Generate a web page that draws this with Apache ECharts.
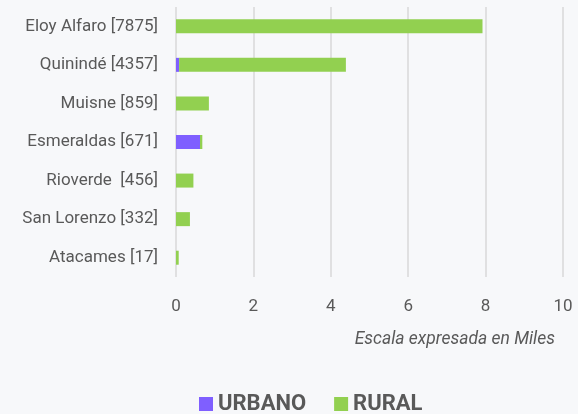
<!DOCTYPE html>
<html>
<head>
<meta charset="utf-8">
<script src="https://cdn.jsdelivr.net/npm/echarts@6/dist/echarts.min.js"></script>
<style>
  html, body { margin: 0; padding: 0; background: #f7f8fa; }
  #chart { width: 578px; height: 414px; }
</style>
</head>
<body>
<div id="chart"></div>
<script>
// categories top to bottom (reversed for the category axis below)
const cantones = ['Eloy Alfaro [7875]', 'Quinindé [4357]', 'Muisne [859]', 'Esmeraldas [671]', 'Rioverde  [456]', 'San Lorenzo [332]', 'Atacames [17]'];
// values in thousands
const urbano = [0, 0.08, 0, 0.62, 0, 0, 0];
const rural = [7.92, 4.31, 0.85, 0.06, 0.45, 0.36, 0.07];
const xTicks = [0, 2, 4, 6, 8, 10];

const chart = echarts.init(document.getElementById('chart'));

const option = {
  backgroundColor: '#f7f8fa',
  animation: false,
  textStyle: { fontFamily: 'Roboto' },
  title: {
    text: 'Escala expresada en Miles',
    right: 18,
    top: 326,
    textStyle: { fontSize: 17.5, fontStyle: 'italic', fontWeight: 'normal', color: '#595959', fontFamily: 'Roboto' }
  },
  legend: {
    data: ['URBANO', 'RURAL'],
    left: 199,
    bottom: -1,
    padding: 0,
    icon: 'rect',
    itemWidth: 14,
    itemHeight: 14,
    itemGap: 28,
    textStyle: { fontSize: 22, fontWeight: 'bold', color: '#595959', fontFamily: 'Roboto' }
  },
  grid: { left: 176, right: 15, top: 7, height: 270, containLabel: false },
  xAxis: {
    type: 'value',
    min: xTicks[0],
    max: xTicks[xTicks.length - 1],
    interval: 2,
    axisLine: { show: false },
    axisTick: { show: false },
    splitLine: { lineStyle: { color: '#d9d9d9', width: 1.5 } },
    axisLabel: { margin: 21, fontSize: 17, color: '#595959' }
  },
  yAxis: {
    type: 'category',
    inverse: true,
    data: cantones,
    axisLine: { show: false },
    axisTick: { show: false },
    axisLabel: { margin: 18, fontSize: 17, color: '#595959' }
  },
  series: [
    {
      name: 'URBANO',
      type: 'bar',
      stack: 'total',
      barWidth: 14,
      itemStyle: { color: '#7f5fff' },
      data: urbano
    },
    {
      name: 'RURAL',
      type: 'bar',
      stack: 'total',
      barWidth: 14,
      itemStyle: { color: '#92d050' },
      data: rural
    }
  ]
};

chart.setOption(option);
</script>
</body>
</html>
